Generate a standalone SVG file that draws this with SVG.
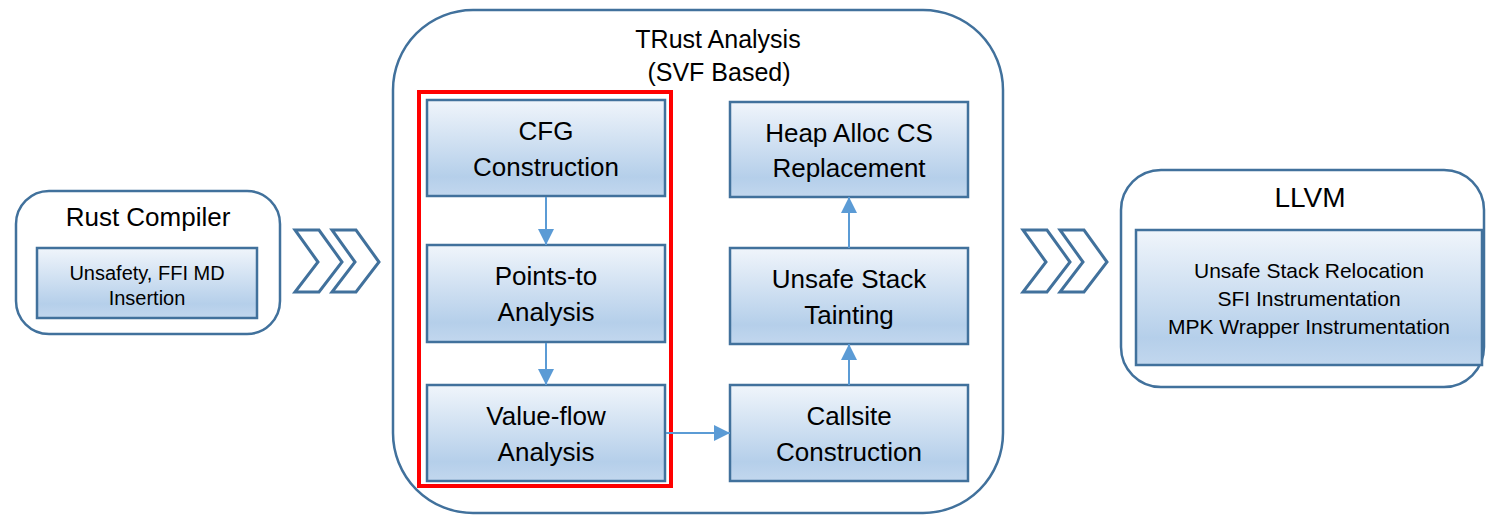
<svg xmlns="http://www.w3.org/2000/svg" width="1486" height="515" viewBox="0 0 1486 515">
  <defs>
    <linearGradient id="boxGrad" x1="0" y1="0" x2="0" y2="1">
      <stop offset="0" stop-color="#f0f5fb"/>
      <stop offset="0.8" stop-color="#b5cfea"/>
      <stop offset="1" stop-color="#c2d7ee"/>
    </linearGradient>
    <marker id="arrow" viewBox="0 0 16 16" refX="16" refY="8" markerWidth="16" markerHeight="16" markerUnits="userSpaceOnUse" orient="auto">
      <path d="M0,0 L16,8 L0,16 z" fill="#5b9bd5"/>
    </marker>
  </defs>
  <style>
    .outer { fill: #ffffff; stroke: #41719c; stroke-width: 2.5; }
    .box { fill: url(#boxGrad); stroke: #41719c; stroke-width: 2.5; }
    .chev { fill: #ffffff; stroke: #41719c; stroke-width: 3; stroke-linejoin: miter; }
    .conn { stroke: #5b9bd5; stroke-width: 2; fill: none; marker-end: url(#arrow); }
    text { font-family: "Liberation Sans", Arial, sans-serif; fill: #000000; text-anchor: middle; }
    .t26 { font-size: 26px; }
    .t25 { font-size: 25px; }
    .t20 { font-size: 20px; }
    .t21 { font-size: 21px; }
    .t28 { font-size: 28px; }
  </style>
  <rect width="1486" height="515" fill="#ffffff"/>

  <!-- Rust Compiler -->
  <g id="rust-compiler">
    <rect class="outer" x="16" y="191" width="264" height="143" rx="33"/>
    <text class="t26" x="148" y="226">Rust Compiler</text>
  </g>
  <g id="unsafety-md">
    <rect class="box" x="37" y="248" width="220" height="70"/>
    <text class="t20" x="147" y="280">Unsafety, FFI MD</text>
    <text class="t20" x="147" y="305">Insertion</text>
  </g>

  <!-- Chevrons left -->
  <g id="chevrons-left">
    <polygon class="chev" points="295,230 319,230 342,262 319,292 295,292 318,262"/>
    <polygon class="chev" points="332,230 356,230 379,262 356,292 332,292 355,262"/>
  </g>

  <!-- TRust Analysis -->
  <g id="trust-analysis">
    <rect class="outer" x="393" y="10" width="610" height="503" rx="80"/>
    <text class="t25" x="718" y="48">TRust Analysis</text>
    <text class="t25" x="719" y="81">(SVF Based)</text>
  </g>
  <g id="svf-highlight">
    <rect x="419" y="92" width="252" height="394" fill="none" stroke="#ff0000" stroke-width="4"/>
  </g>
  <g id="cfg">
    <rect class="box" x="427" y="100" width="238" height="96"/>
    <text class="t26" x="546" y="140">CFG</text>
    <text class="t26" x="546" y="176">Construction</text>
  </g>
  <g id="points-to">
    <rect class="box" x="427" y="245" width="238" height="97"/>
    <text class="t26" x="546" y="285">Points-to</text>
    <text class="t26" x="546" y="321">Analysis</text>
  </g>
  <g id="value-flow">
    <rect class="box" x="427" y="385" width="238" height="96"/>
    <text class="t26" x="546" y="425">Value-flow</text>
    <text class="t26" x="546" y="461">Analysis</text>
  </g>
  <g id="heap-alloc">
    <rect class="box" x="730" y="102" width="238" height="95"/>
    <text class="t26" x="849" y="142">Heap Alloc CS</text>
    <text class="t26" x="849" y="177">Replacement</text>
  </g>
  <g id="unsafe-stack">
    <rect class="box" x="730" y="248" width="238" height="96"/>
    <text class="t26" x="849" y="288">Unsafe Stack</text>
    <text class="t26" x="849" y="324">Tainting</text>
  </g>
  <g id="callsite">
    <rect class="box" x="730" y="385" width="238" height="96"/>
    <text class="t26" x="849" y="425">Callsite</text>
    <text class="t26" x="849" y="461">Construction</text>
  </g>

  <!-- Chevrons right -->
  <g id="chevrons-right">
    <polygon class="chev" points="1023,230 1047,230 1070,262 1047,292 1023,292 1046,262"/>
    <polygon class="chev" points="1060,230 1084,230 1107,262 1084,292 1060,292 1083,262"/>
  </g>

  <!-- LLVM -->
  <g id="llvm">
    <rect class="outer" x="1121" y="170" width="363" height="217" rx="40"/>
    <text class="t28" x="1310" y="207">LLVM</text>
  </g>
  <g id="llvm-passes">
    <rect class="box" x="1136" y="230" width="346" height="135"/>
    <text class="t21" x="1309" y="278">Unsafe Stack Relocation</text>
    <text class="t21" x="1309" y="306">SFI Instrumentation</text>
    <text class="t21" x="1309" y="334">MPK Wrapper Instrumentation</text>
  </g>

  <!-- Connectors -->
  <g id="connectors">
    <line class="conn" x1="546" y1="197" x2="546" y2="245"/>
    <line class="conn" x1="546" y1="343" x2="546" y2="385"/>
    <line class="conn" x1="666" y1="433" x2="730" y2="433"/>
    <line class="conn" x1="849" y1="385" x2="849" y2="344"/>
    <line class="conn" x1="849" y1="248" x2="849" y2="197"/>
  </g>
</svg>
